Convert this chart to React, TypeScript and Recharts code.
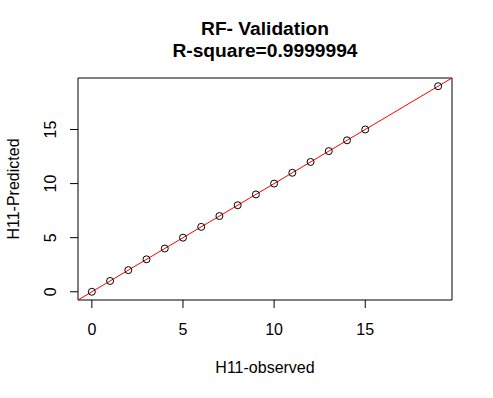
import React from 'react';
import { ScatterChart, Scatter, XAxis, YAxis, ReferenceLine, ReferenceArea } from 'recharts';

// RF validation: observed vs predicted H11
const observed = [0, 1, 2, 3, 4, 5, 6, 7, 8, 9, 10, 11, 12, 13, 14, 15, 19];
const predicted = [0, 1, 2, 3, 4, 5, 6, 7, 8, 9, 10, 11, 12, 13, 14, 15, 19];
const xTicks = [0, 5, 10, 15];
const yTicks = [0, 5, 10, 15];
const axisMin = -0.76;
const axisMax = 19.76;

const points = observed.map((x, i) => ({ x, y: predicted[i] }));

const FONT = '"Liberation Sans", Arial, sans-serif';

const Circle = (props: any) => (
  <circle cx={props.cx} cy={props.cy} r={3.5} fill="none" stroke="#000" strokeWidth={1} />
);

const XTick = (props: any) => (
  <text x={props.x} y={props.y} dy="0.72em" textAnchor="middle" fontSize={16} fontFamily={FONT} fill="#000">
    {props.payload.value}
  </text>
);

const YTick = (props: any) => (
  <text
    x={props.x}
    y={props.y}
    textAnchor="middle"
    fontSize={16}
    fontFamily={FONT}
    fill="#000"
    transform={`rotate(-90, ${props.x}, ${props.y})`}
  >
    {props.payload.value}
  </text>
);

export default function App() {
  return (
    <div style={{ position: 'absolute', left: 0, top: 0, width: 493, height: 398, background: '#fff' }}>
      <ScatterChart width={493} height={398} margin={{ top: 78, right: 41, bottom: 58, left: 18 }}>
        <XAxis
          type="number"
          dataKey="x"
          domain={[axisMin, axisMax]}
          ticks={xTicks}
          allowDataOverflow
          height={40}
          axisLine={false}
          tickSize={8}
          tickMargin={15}
          tickLine={{ stroke: '#000' }}
          tick={<XTick />}
        />
        <YAxis
          type="number"
          dataKey="y"
          domain={[axisMin, axisMax]}
          ticks={yTicks}
          allowDataOverflow
          width={60}
          axisLine={false}
          tickSize={8}
          tickMargin={14}
          tickLine={{ stroke: '#000' }}
          tick={<YTick />}
        />
        <ReferenceArea x1={axisMin} x2={axisMax} y1={axisMin} y2={axisMax} fill="none" fillOpacity={0} stroke="#000" strokeWidth={1} />
        <Scatter data={points} shape={<Circle />} isAnimationActive={false} />
        <ReferenceLine
          segment={[{ x: axisMin, y: axisMin }, { x: axisMax, y: axisMax }]}
          stroke="#ff0000"
          strokeWidth={1}
        />
      </ScatterChart>
      <svg width={493} height={398} style={{ position: 'absolute', left: 0, top: 0, pointerEvents: 'none' }}>
        <text x={265} y={35} textAnchor="middle" fontSize={19.2} fontWeight="bold" fontFamily={FONT}>
          RF- Validation
        </text>
        <text x={265} y={56.5} textAnchor="middle" fontSize={19.2} fontWeight="bold" fontFamily={FONT}>
          R-square=0.9999994
        </text>
        <text x={265} y={373} textAnchor="middle" fontSize={16} fontFamily={FONT}>
          H11-observed
        </text>
        <text x={19} y={189} textAnchor="middle" fontSize={16} fontFamily={FONT} transform="rotate(-90, 19, 189)">
          H11-Predicted
        </text>
      </svg>
    </div>
  );
}
